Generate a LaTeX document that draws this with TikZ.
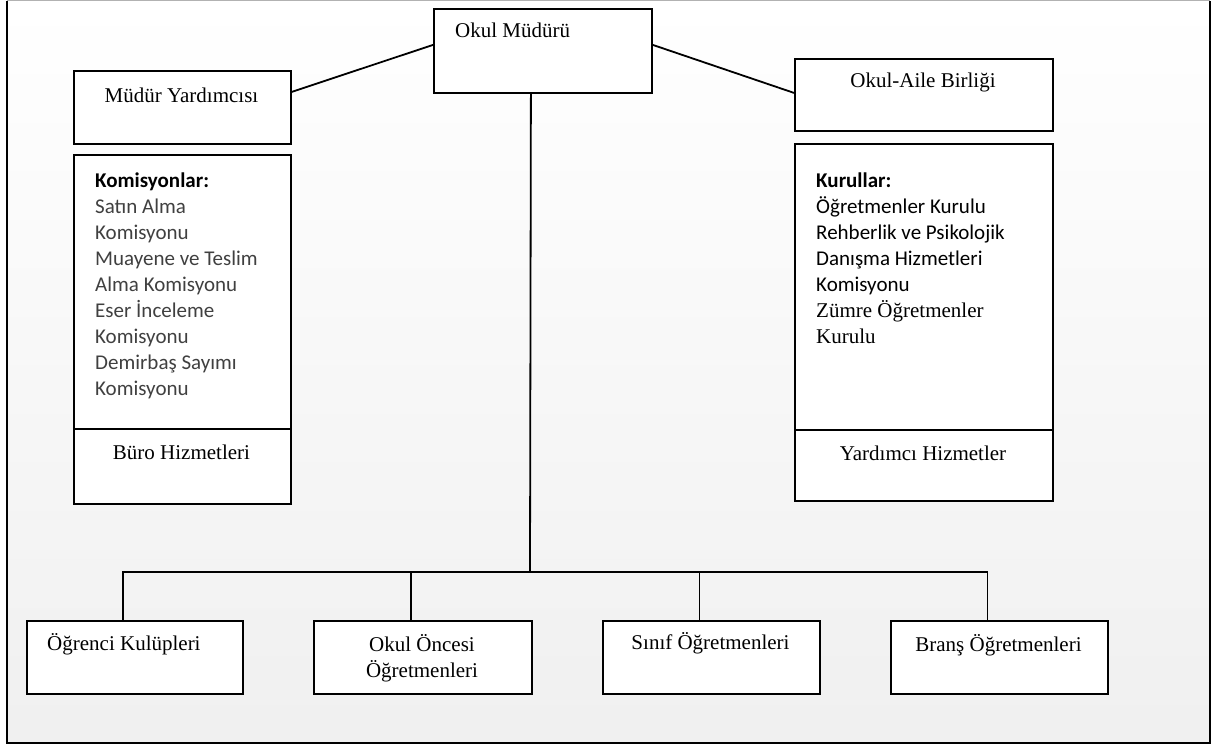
\documentclass[tikz,border=0pt]{standalone}
\usepackage{fontspec}
\setmainfont{Liberation Serif}
\newfontfamily\calibri{Carlito}
\begin{document}
\begin{tikzpicture}[x = 1pt, y = -1pt,
		kutu/.style = {draw, fill = white, line width = 1.8pt, inner sep = 0pt, anchor = north west},
		yazi/.style = {inner sep = 0pt, anchor = base, font = \fontsize{21}{26}\selectfont},
		liste/.style = {inner sep = 0pt, align = left, anchor = north west, font = \calibri\fontsize{21}{26}\selectfont},
		hat/.style = {line width = 1.8pt}
	]
		\useasboundingbox (0,0) rectangle (1215,746);
		% cerceve
		\shade[top color = white, bottom color = black!6] (7,1) rectangle (1210,743);
		\draw[line width = 2.2pt] (7,1) -- (7,743) -- (1210,743) -- (1210,1);
		\draw[black!30, line width = 1pt] (7,1) -- (1210,1);

		% ust kutular
		\node[kutu, minimum width = 218, minimum height = 84] (mudur) at (433,8) {};
		\node[kutu, minimum width = 217, minimum height = 73] (yard) at (73,70) {};
		\node[kutu, minimum width = 217, minimum height = 274] (komis) at (73,154) {};
		\node[kutu, minimum width = 217, minimum height = 75] (buro) at (73,428) {};
		\node[kutu, minimum width = 258, minimum height = 72] (aile) at (794,58) {};
		\node[kutu, minimum width = 258, minimum height = 286] (kurul) at (794,143) {};
		\node[kutu, minimum width = 258, minimum height = 71] (yrd) at (794,429) {};

		% alt kutular
		\node[kutu, minimum width = 216, minimum height = 73] (ogr) at (26,620) {};
		\node[kutu, minimum width = 218, minimum height = 73] (onc) at (313,620) {};
		\node[kutu, minimum width = 217, minimum height = 73] (sinif) at (602,620) {};
		\node[kutu, minimum width = 217, minimum height = 73] (brans) at (890,620) {};

		% yazilar
		\node[yazi, anchor = base west] (mudurT) at (455,38) {Okul Müdürü};
		\node[yazi] (yardT) at (181.5,103) {Müdür Yardımcısı};
		\node[yazi] (aileT) at (923,88) {Okul-Aile Birliği};
		\node[yazi] (buroT) at (181.5,459) {Büro Hizmetleri};
		\node[yazi] (yrdT) at (923,460) {Yardımcı Hizmetler};
		\node[yazi, anchor = base west] (ogrT) at (47,650) {Öğrenci Kulüpleri};
		\node[yazi, align = center] (oncT) at (422,677) {Okul Öncesi\\Öğretmenleri};
		\node[yazi] (sinifT) at (710.5,649) {Sınıf Öğretmenleri};
		\node[yazi] (bransT) at (998.5,651) {Branş Öğretmenleri};

		\node[liste, text = black!75] (komisT) at (95,173) {\textcolor{black}{\textbf{Komisyonlar:}}\\Satın Alma\\Komisyonu\\Muayene ve Teslim\\Alma Komisyonu\\Eser İnceleme\\Komisyonu\\Demirbaş Sayımı\\Komisyonu};
		\node[liste] (kurulT) at (816,173) {\textbf{Kurullar:}\\Öğretmenler Kurulu\\Rehberlik ve Psikolojik\\Danışma Hizmetleri\\Komisyonu\\{\rmfamily Zümre Öğretmenler}\\{\rmfamily Kurulu}};

		% baglantilar
		\draw[hat] ([yshift = 15.5pt]yard.east) -- ([yshift = 6pt]mudur.west);
		\draw[hat] ([yshift = 6pt]mudur.east) -- ([yshift = 2pt]aile.west);
		\coordinate (kol) at (530,572);
		\draw[hat] ([xshift = -12pt]mudur.south) -- (kol);
		\foreach \k in {ogr, onc, sinif, brans}
			\draw[hat] ([xshift = -12pt]\k.north) |- (kol);
	\end{tikzpicture}
\end{document}
